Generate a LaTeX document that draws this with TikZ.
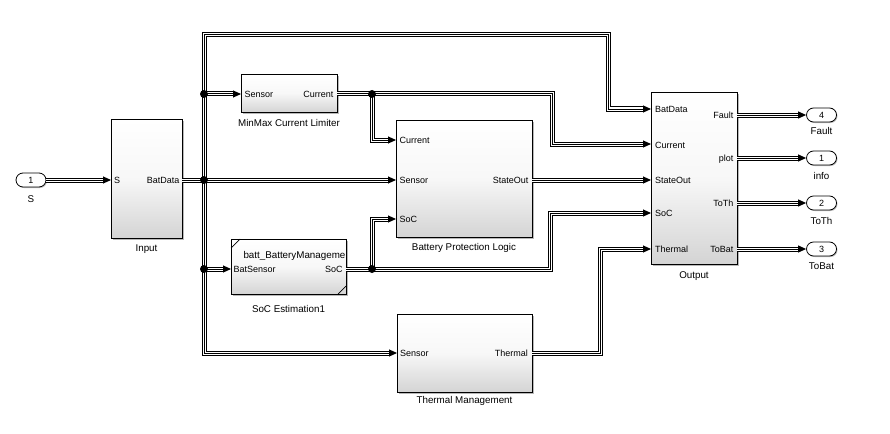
\documentclass[tikz,border=0pt]{standalone}
\usepackage{fontspec}
\setmainfont{Liberation Sans}
\usetikzlibrary{arrows.meta,shadows}
\begin{document}
\begin{tikzpicture}[x=1pt,y=-1pt,
  block/.style={draw=black, line width=0.8pt, anchor=north west, inner sep=0pt,
    top color=white, bottom color=black!17, middle color=black!3,
    drop shadow={shadow xshift=2pt, shadow yshift=-2pt, fill=black, opacity=0.28}},
  port/.style={draw=black, line width=0.8pt, fill=white, rounded corners=7pt, inner sep=0pt,
    minimum width=30pt, minimum height=14pt, font=\fontsize{9}{10}\selectfont,
    drop shadow={shadow xshift=1pt, shadow yshift=-1pt, fill=black, opacity=0.25}},
  plabl/.style={anchor=base west, inner sep=0pt, font=\fontsize{9}{10}\selectfont},
  plabr/.style={anchor=base east, inner sep=0pt, font=\fontsize{9}{10}\selectfont},
  blab/.style={anchor=base, inner sep=0pt, font=\fontsize{9.8}{11}\selectfont},
  bus/.style={draw=black, line width=5pt, line join=miter, shorten >=6pt,
    postaction={draw=white, line width=3pt, line join=miter, shorten >=6pt},
    postaction={draw=black, line width=1pt, line join=miter, shorten >=0pt,
      -{Triangle[length=8pt,width=7pt]}}},
  jdot/.style={fill=black}
]
\useasboundingbox (0,0) rectangle (890,433);
\fill[white] (0,0) rectangle (890,433);

% ---------------- blocks ----------------
\node[block, minimum width=71pt, minimum height=119pt] (input) at (111,119) {};
\node[block, minimum width=96pt, minimum height=38pt] (minmax) at (241,74) {};
\node[block, minimum width=136pt, minimum height=117pt] (bpl) at (396,120) {};
\node[block, minimum width=115pt, minimum height=55pt] (soc) at (231,239) {};
\node[block, minimum width=135pt, minimum height=78pt] (tm) at (397,314) {};
\node[block, minimum width=86pt, minimum height=172pt] (out) at (651,92) {};

% reference-model corner marks
\draw[line width=0.7pt] (231,248) -- (240,239);
\draw[line width=0.7pt] (338,294) -- (346,286);

% ---------------- ports ----------------
\node[port] (pS) at (31,180) {1};
\node[port] (pF) at (821.5,115) {4};
\node[port] (pP) at (821.5,158) {1};
\node[port] (pT) at (821.5,203) {2};
\node[port] (pB) at (821.5,249) {3};

% port coordinates
\coordinate (inS) at (111,180);
\coordinate (inBat) at (182,180);
\coordinate (mmS) at (241,94);
\coordinate (mmC) at (337,94);
\coordinate (bplC) at (396,140);
\coordinate (bplS) at (396,180);
\coordinate (bplSoC) at (396,219);
\coordinate (bplOut) at (532,180);
\coordinate (socIn) at (231,269);
\coordinate (socOut) at (346,269);
\coordinate (tmIn) at (397,353);
\coordinate (tmOut) at (532,353);
\coordinate (oBat) at (651,109);
\coordinate (oCur) at (651,144);
\coordinate (oSt) at (651,180);
\coordinate (oSoC) at (651,213);
\coordinate (oTh) at (651,249);
\coordinate (oF) at (737,115);
\coordinate (oP) at (737,158);
\coordinate (oT) at (737,203);
\coordinate (oB) at (737,249);
\coordinate (j1) at (204,180);
\coordinate (j2) at (204,94);
\coordinate (j3) at (204,269);
\coordinate (j4) at (372,94);
\coordinate (j5) at (372,269);

% ---------------- port labels ----------------
\node[plabl] (l1) at (114,183.2) {S};
\node[plabr] (l2) at (179.5,183.2) {BatData};
\node[plabl] (l3) at (244.5,97.2) {Sensor};
\node[plabr] (l4) at (333.5,97.2) {Current};
\node[plabl] (l5) at (399.5,143.2) {Current};
\node[plabl] (l6) at (399.5,183.2) {Sensor};
\node[plabl] (l7) at (399.5,222.2) {SoC};
\node[plabr] (l8) at (528.5,183.2) {StateOut};
\node[anchor=base west, inner sep=0pt, font=\fontsize{9.8}{11}\selectfont] (l9) at (243.3,258.5) {batt\_BatteryManageme};
\node[plabl] (l10) at (233.5,272.2) {BatSensor};
\node[plabr] (l11) at (342.8,272.2) {SoC};
\node[plabl] (l12) at (400,356.2) {Sensor};
\node[plabr] (l13) at (528,356.2) {Thermal};
\node[plabl] (l14) at (655,112.2) {BatData};
\node[plabl] (l15) at (655,148.2) {Current};
\node[plabl] (l16) at (655,183.2) {StateOut};
\node[plabl] (l17) at (655,216.2) {SoC};
\node[plabl] (l18) at (655,252.2) {Thermal};
\node[plabr] (l19) at (733.5,118.2) {Fault};
\node[plabr] (l20) at (733.5,161.2) {plot};
\node[plabr] (l21) at (733.5,206.2) {ToTh};
\node[plabr] (l22) at (733.5,252.2) {ToBat};

% ---------------- block labels ----------------
\node[blab] (n1) at (146.5,251.5) {Input};
\node[blab] (n2) at (289,126.2) {MinMax Current Limiter};
\node[blab] (n3) at (464,250.2) {Battery Protection Logic};
\node[blab] (n4) at (288.5,312.5) {SoC Estimation1};
\node[blab] (n5) at (464.5,403.5) {Thermal Management};
\node[blab] (n6) at (694,278.5) {Output};
\node[blab] (n7) at (31,202.5) {S};
\node[blab] (n8) at (821.5,134.5) {Fault};
\node[blab] (n9) at (821.5,179) {info};
\node[blab] (n10) at (821.5,224.5) {ToTh};
\node[blab] (n11) at (821.5,269.5) {ToBat};

% ---------------- connectors ----------------
\draw[bus] (pS.east) -- (inS);
\draw[bus] (inBat) -- (bplS);
\draw[bus] (j1) -- (204,35) -- (608,35) -- (608,109) -- (oBat);
\draw[bus] (j2) -- (mmS);
\draw[bus] (j1) -- (j3) -- (socIn);
\draw[bus] (j3) -- (204,353) -- (tmIn);
\draw[bus] (mmC) -- (552,94) -- (552,144) -- (oCur);
\draw[bus] (j4) -- (372,140) -- (bplC);
\draw[bus] (bplOut) -- (oSt);
\draw[bus] (socOut) -- (550,269) -- (550,213) -- (oSoC);
\draw[bus] (j5) -- (372,219) -- (bplSoC);
\draw[bus] (tmOut) -- (600,353) -- (600,249) -- (oTh);
\draw[bus] (oF) -- (pF.west);
\draw[bus] (oP) -- (pP.west);
\draw[bus] (oT) -- (pT.west);
\draw[bus] (oB) -- (pB.west);

% junction dots
\fill[jdot] (j1) circle (4);
\fill[jdot] (j2) circle (4);
\fill[jdot] (j3) circle (4);
\fill[jdot] (j4) circle (4);
\fill[jdot] (j5) circle (4);
\end{tikzpicture}
\end{document}
